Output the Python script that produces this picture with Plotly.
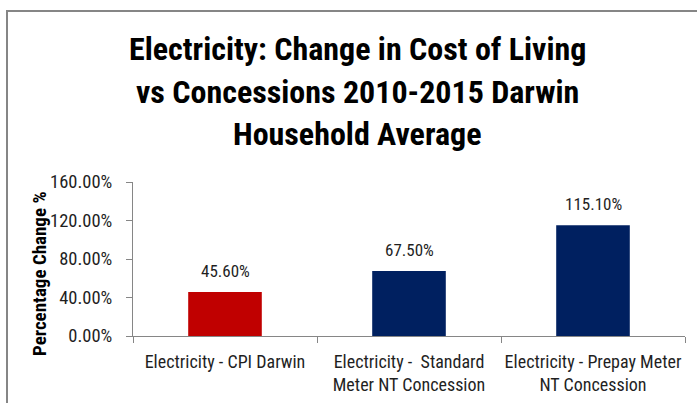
import plotly.graph_objects as go

categories = [
    "Electricity - CPI Darwin",
    "Electricity -  Standard<br>Meter NT Concession",
    "Electricity - Prepay Meter<br>NT Concession",
]
pct_change = [0.456, 0.675, 1.151]
bar_colors = ["#C00000", "#002060", "#002060"]
y_ticks = [0.0, 0.4, 0.8, 1.2, 1.6]
title_lines = [
    "Electricity: Change in Cost of Living",
    "vs Concessions 2010-2015 Darwin",
    "Household Average",
]
y_title = "Percentage Change %"

FONT = "Roboto Condensed, Liberation Sans, sans-serif"
TEXT_COLOR = "#1f1f1f"
AXIS_GRAY = "#868686"

# plot area in pixels: left 133, right 685, top 182 (160%), bottom 336 (0%)
L, R, T, B = 133, 685, 182, 336
W, H = 697, 403


def px_to_paper_x(px):
    return (px - L) / (R - L)


def px_to_paper_y(py):
    return (B - py) / (B - T)


fig = go.Figure(
    go.Bar(
        x=categories,
        y=pct_change,
        marker=dict(color=bar_colors, line=dict(width=0)),
        width=0.4,
        hoverinfo="x+y",
    )
)

annotations = []
# value labels above each bar
for cat, val in zip(categories, pct_change):
    annotations.append(
        dict(
            x=cat,
            y=val,
            xref="x",
            yref="y",
            text=f"{val:.2%}",
            showarrow=False,
            yanchor="bottom",
            yshift=9,
            font=dict(family=FONT, size=17, color=TEXT_COLOR),
        )
    )

# three-line bold title
baselines = [60, 102.5, 145]
for line, base in zip(title_lines, baselines):
    annotations.append(
        dict(
            x=px_to_paper_x(357),
            y=px_to_paper_y(base - 11),
            xref="paper",
            yref="paper",
            text=line,
            showarrow=False,
            xanchor="center",
            yanchor="middle",
            font=dict(family=FONT, size=32, color="#000000", weight="bold"),
        )
    )

# rotated y-axis title
annotations.append(
    dict(
        x=px_to_paper_x(39),
        y=px_to_paper_y(274),
        xref="paper",
        yref="paper",
        text=y_title,
        showarrow=False,
        textangle=-90,
        xanchor="center",
        yanchor="middle",
        font=dict(family=FONT, size=19, color="#000000", weight="bold"),
    )
)

fig.update_layout(
    width=W,
    height=H,
    margin=dict(l=L, r=W - R, t=T, b=H - B, autoexpand=False),
    paper_bgcolor="white",
    plot_bgcolor="white",
    showlegend=False,
    font=dict(family=FONT, size=18, color=TEXT_COLOR),
    annotations=annotations,
    xaxis=dict(
        showline=True,
        linecolor=AXIS_GRAY,
        linewidth=1,
        ticks="outside",
        tickson="boundaries",
        ticklen=6,
        tickcolor=AXIS_GRAY,
        tickangle=0,
        automargin=False,
        ticklabelstandoff=9,
        tickfont=dict(family=FONT, size=18, color=TEXT_COLOR),
        showgrid=False,
    ),
    yaxis=dict(
        range=[0, 1.6],
        tickvals=y_ticks,
        tickformat=".2%",
        showline=True,
        linecolor=AXIS_GRAY,
        linewidth=1,
        ticks="outside",
        ticklen=6,
        tickcolor=AXIS_GRAY,
        automargin=False,
        ticklabelstandoff=10,
        showgrid=False,
        zeroline=False,
        tickfont=dict(family=FONT, size=18.5, color=TEXT_COLOR),
    ),
    shapes=[
        dict(
            type="rect",
            xref="paper",
            yref="paper",
            x0=px_to_paper_x(7),
            x1=px_to_paper_x(710),
            y0=px_to_paper_y(420),
            y1=px_to_paper_y(11),
            line=dict(color=AXIS_GRAY, width=2),
            fillcolor="rgba(0,0,0,0)",
            layer="below",
        )
    ],
)

fig.write_html("out.html")
